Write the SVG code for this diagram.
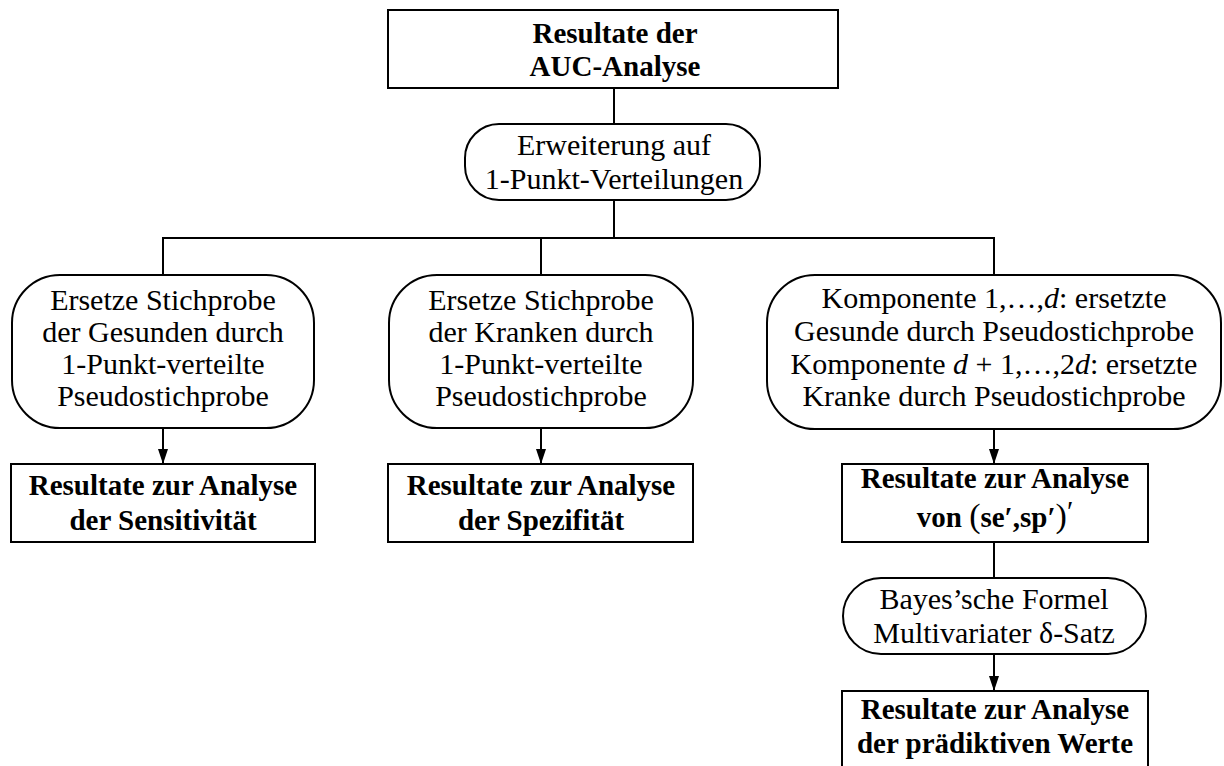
<svg xmlns="http://www.w3.org/2000/svg" width="1224" height="766" viewBox="0 0 1224 766">
  <style>
    .box { fill: #fff; stroke: #000; stroke-width: 2; }
    .conn { fill: none; stroke: #000; stroke-width: 2; }
    text { font-family: "Liberation Serif", "Times New Roman", serif; font-size: 30px; fill: #000; text-anchor: middle; }
    .b { font-weight: bold; font-size: 29px; }
    .it { font-style: italic; }
    .nb { font-weight: normal; }
  </style>
  <defs>
    <marker id="head" markerWidth="15" markerHeight="10" refX="14" refY="5" orient="auto" markerUnits="userSpaceOnUse">
      <path d="M0,0 L15,5 L0,10 Z" fill="#000"/>
    </marker>
  </defs>

  <g id="connectors">
    <path class="conn" d="M614,88 V124"/>
    <path class="conn" d="M614,200 V238"/>
    <path class="conn" d="M163,275 V238 H994 V275"/>
    <path class="conn" d="M541,238 V275"/>
    <path class="conn" d="M163,428 V463" marker-end="url(#head)"/>
    <path class="conn" d="M541,428 V463" marker-end="url(#head)"/>
    <path class="conn" d="M994,429 V463" marker-end="url(#head)"/>
    <path class="conn" d="M994,542 V578"/>
    <path class="conn" d="M994,654 V690" marker-end="url(#head)"/>
  </g>

  <g id="auc">
    <rect class="box" x="388" y="10" width="450" height="78"/>
    <text class="b" x="615" y="43">Resultate der</text>
    <text class="b" x="615" y="76">AUC-Analyse</text>
  </g>

  <g id="erweiterung">
    <rect class="box" x="465" y="124" width="295" height="76" rx="34" ry="34"/>
    <text x="614" y="155">Erweiterung auf</text>
    <text x="614" y="189">1-Punkt-Verteilungen</text>
  </g>

  <g id="gesunde">
    <rect class="box" x="12" y="275" width="302" height="153" rx="48" ry="48"/>
    <text x="163" y="310">Ersetze Stichprobe</text>
    <text x="163" y="342">der Gesunden durch</text>
    <text x="163" y="374">1-Punkt-verteilte</text>
    <text x="163" y="406">Pseudostichprobe</text>
  </g>

  <g id="kranke">
    <rect class="box" x="389" y="275" width="304" height="153" rx="48" ry="48"/>
    <text x="541" y="310">Ersetze Stichprobe</text>
    <text x="541" y="342">der Kranken durch</text>
    <text x="541" y="374">1-Punkt-verteilte</text>
    <text x="541" y="406">Pseudostichprobe</text>
  </g>

  <g id="komponenten">
    <rect class="box" x="767" y="275" width="454" height="154" rx="48" ry="48"/>
    <text x="994" y="308">Komponente 1,…,<tspan class="it">d</tspan>: ersetzte</text>
    <text x="994" y="341">Gesunde durch Pseudostichprobe</text>
    <text x="994" y="374">Komponente <tspan class="it">d</tspan> + 1,…,2<tspan class="it">d</tspan>: ersetzte</text>
    <text x="994" y="406">Kranke durch Pseudostichprobe</text>
  </g>

  <g id="sensitivitaet">
    <rect class="box" x="11" y="464" width="304" height="78"/>
    <text class="b" x="163" y="495">Resultate zur Analyse</text>
    <text class="b" x="163" y="530">der Sensitivität</text>
  </g>

  <g id="spezifitaet">
    <rect class="box" x="388" y="464" width="305" height="78"/>
    <text class="b" x="541" y="495">Resultate zur Analyse</text>
    <text class="b" x="541" y="530">der Spezifität</text>
  </g>

  <g id="se-sp">
    <rect class="box" x="842" y="464" width="306" height="78"/>
    <text class="b" x="995" y="488">Resultate zur Analyse</text>
    <text class="b" x="995" y="527">von <tspan class="nb" font-size="34">(</tspan>se′,sp′<tspan class="nb" font-size="34">)</tspan><tspan class="nb" dy="-6">′</tspan></text>
  </g>

  <g id="bayes">
    <rect class="box" x="843" y="578" width="303" height="76" rx="38" ry="38"/>
    <text x="994" y="609">Bayes’sche Formel</text>
    <text x="994" y="643">Multivariater δ-Satz</text>
  </g>

  <g id="praediktiv">
    <rect class="box" x="842" y="691" width="306" height="80"/>
    <text class="b" x="995" y="719">Resultate zur Analyse</text>
    <text class="b" x="995" y="753">der prädiktiven Werte</text>
  </g>
</svg>
